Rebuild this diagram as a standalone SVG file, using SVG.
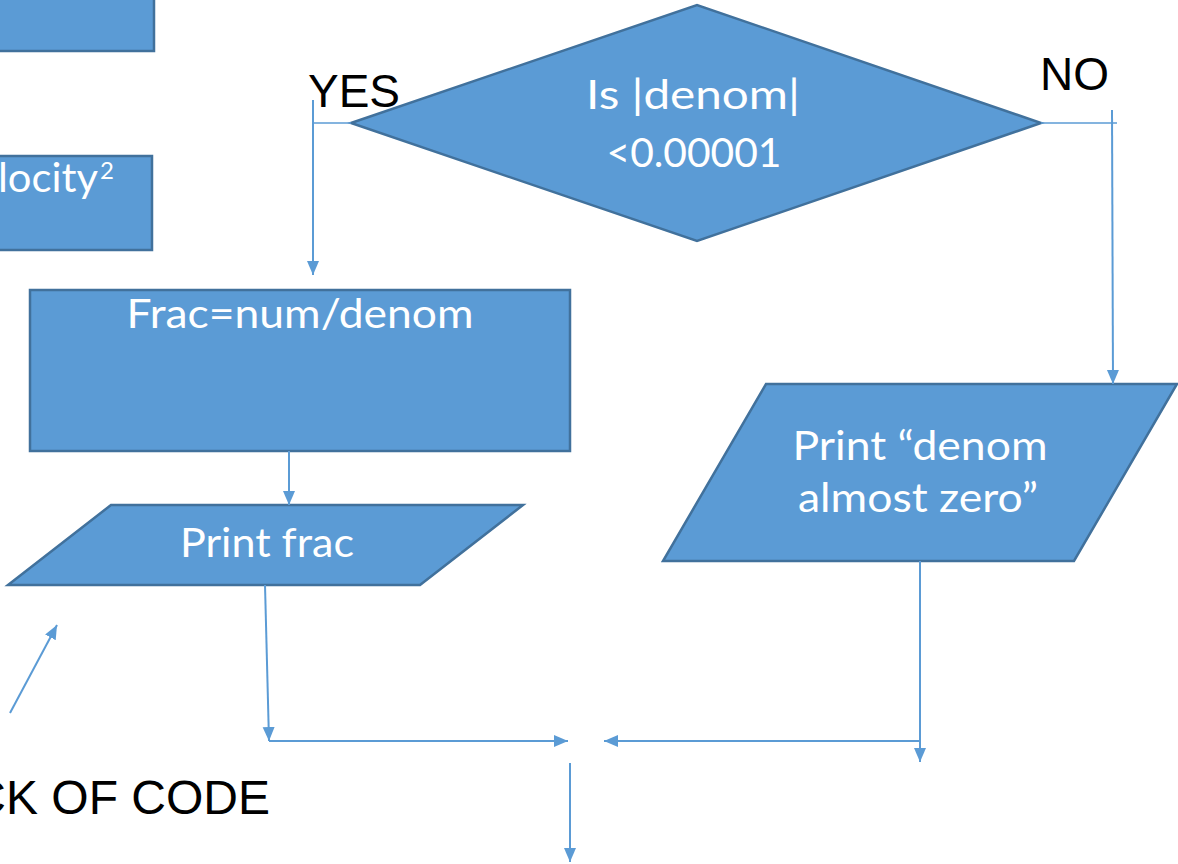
<svg xmlns="http://www.w3.org/2000/svg" width="1178" height="864" viewBox="0 0 1178 864">
<defs>
<style>
.shape{fill:#5B9BD5;stroke:#41719C;stroke-width:2.5}
.lbl{fill:#FFFFFF;font-family:Lato,"Noto Sans",sans-serif;font-size:40px}
.blk{fill:#000000;font-family:"Liberation Sans",Arial,sans-serif;font-size:46px}
.con{fill:none;stroke:#5B9BD5;stroke-width:2}
.thin{fill:none;stroke:#5B9BD5;stroke-width:1.5}
</style>
<marker id="arr" markerUnits="userSpaceOnUse" markerWidth="14" markerHeight="16" refX="14" refY="6" orient="auto">
<path d="M0,0 L14,6 L0,12 Z" fill="#5B9BD5"/>
</marker>
</defs>
<rect width="1178" height="864" fill="#FFFFFF"/>
<g id="box-top">
<rect class="shape" x="-5" y="-5" width="159" height="56"/>
</g>
<g id="box-velocity">
<rect class="shape" x="-5" y="156" width="157" height="94"/>
<text class="lbl" x="-2" y="192" textLength="100" lengthAdjust="spacingAndGlyphs">locity</text>
<text class="lbl" x="100" y="179" style="font-size:24px">2</text>
</g>
<g id="decision">
<polygon class="shape" points="351,123 697,5 1041,123 697,241"/>
<text class="lbl" x="693" y="109" text-anchor="middle" textLength="214" lengthAdjust="spacingAndGlyphs">Is |denom|</text>
<text class="lbl" x="694" y="167" text-anchor="middle" textLength="175" lengthAdjust="spacingAndGlyphs">&lt;0.00001</text>
</g>
<g id="frac">
<rect class="shape" x="30" y="290" width="540" height="161"/>
<text class="lbl" x="300" y="328" text-anchor="middle" textLength="347" lengthAdjust="spacingAndGlyphs">Frac=num/denom</text>
</g>
<g id="print-frac">
<polygon class="shape" points="111,505 523,505 420,585 8,585"/>
<text class="lbl" x="267" y="557" text-anchor="middle" textLength="174" lengthAdjust="spacingAndGlyphs">Print frac</text>
</g>
<g id="print-denom">
<polygon class="shape" points="766,384 1177,384 1074,561 663,561"/>
<text class="lbl" x="920" y="460" text-anchor="middle" textLength="255" lengthAdjust="spacingAndGlyphs">Print “denom</text>
<text class="lbl" x="918" y="512" text-anchor="middle" textLength="240" lengthAdjust="spacingAndGlyphs">almost zero”</text>
</g>
<g id="labels">
<text class="blk" x="308" y="107">YES</text>
<text class="blk" x="1040" y="90">NO</text>
<text class="blk" x="270" y="814" text-anchor="end" style="font-size:48px">CK OF CODE</text>
</g>
<g id="connectors">
<line class="thin" x1="351" y1="123" x2="313" y2="123"/>
<line class="con" x1="313" y1="100" x2="313" y2="275" marker-end="url(#arr)"/>
<line class="thin" x1="1041" y1="123" x2="1117" y2="123"/>
<line class="con" x1="1112" y1="110" x2="1113" y2="384" marker-end="url(#arr)"/>
<line class="con" x1="289" y1="451" x2="289" y2="505" marker-end="url(#arr)"/>
<line class="con" x1="265" y1="585" x2="269" y2="741" marker-end="url(#arr)"/>
<line class="con" x1="269" y1="741" x2="568" y2="741" marker-end="url(#arr)"/>
<line class="con" x1="920" y1="561" x2="920" y2="762" marker-end="url(#arr)"/>
<line class="con" x1="920" y1="741" x2="604" y2="741" marker-end="url(#arr)"/>
<line class="con" x1="570" y1="763" x2="570" y2="862" marker-end="url(#arr)"/>
<line class="con" x1="10" y1="713" x2="57" y2="625" marker-end="url(#arr)"/>
</g>
</svg>
